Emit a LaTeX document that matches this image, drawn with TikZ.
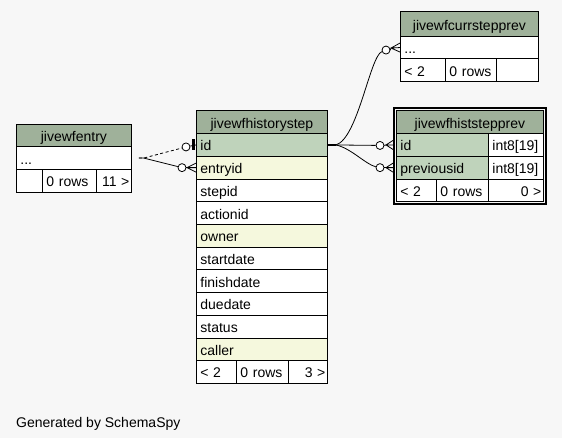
\documentclass[tikz,border=0pt]{standalone}
\usepackage{fontspec}
\setmainfont{Liberation Sans}
\usetikzlibrary{calc}
\definecolor{hdr}{RGB}{159,177,154}
\definecolor{keyc}{RGB}{191,211,187}
\definecolor{idxc}{RGB}{245,248,221}
\definecolor{bgc}{RGB}{247,247,247}
\begin{document}
\begin{tikzpicture}[x=1pt,y=-1pt,
  font=\fontsize{14}{16}\selectfont,
  cell/.style={draw=black, line width=0.8pt, anchor=north west, inner xsep=4pt, inner ysep=0pt,
     text height=12pt, text depth=0pt, minimum height=22.7pt, align=left, text width=#1, fill=white},
  hdrcell/.style={cell=#1, fill=hdr, align=center},
  rcell/.style={cell=#1, align=right, inner xsep=2pt},
  conn/.style={line width=0.8pt},
  odot/.style={draw=black, fill=white, circle, inner sep=0pt, minimum size=8pt, line width=0.8pt},
  keybar/.style={line width=2.5pt},
]
\fill[bgc] (0,0) rectangle (562,438);
\useasboundingbox (0,0) rectangle (562,438);

% jivewfhistorystep
\node[hdrcell=123pt] (hs) at (196,110.5) {jivewfhistorystep};
\node[cell=123pt, fill=keyc] (hsid) at (196,133.2) {id};
\node[cell=123pt, fill=idxc] (hsentry) at (196,155.9) {entryid};
\node[cell=123pt] (hsstep) at (196,178.6) {stepid};
\node[cell=123pt] (hsaction) at (196,201.3) {actionid};
\node[cell=123pt, fill=idxc] (hsowner) at (196,224) {owner};
\node[cell=123pt] (hsstart) at (196,246.7) {startdate};
\node[cell=123pt] (hsfinish) at (196,269.4) {finishdate};
\node[cell=123pt] (hsdue) at (196,292.1) {duedate};
\node[cell=123pt] (hsstatus) at (196,314.8) {status};
\node[cell=123pt, fill=idxc] (hscaller) at (196,337.5) {caller};
\node[cell=32pt] (hsf1) at (196,360.2) {< 2};
\node[cell=44pt] (hsf2) at (236,360.2) {0 rows};
\node[rcell=35pt] (hsf3) at (288,360.2) {3 >};

% jivewfentry
\node[hdrcell=107pt] (ent) at (16,123.6) {jivewfentry};
\node[cell=107pt] (entdots) at (16,146.3) {...};
\node[cell=18pt] (entf1) at (16,169) {};
\node[cell=46pt] (entf2) at (42,169) {0 rows};
\node[rcell=31pt] (entf3) at (96,169) {11 >};

% jivewfcurrstepprev
\node[hdrcell=130pt, minimum height=24.3pt] (cur) at (400,11.5) {jivewfcurrstepprev};
\node[cell=130pt] (curdots) at (400,35.8) {...};
\node[cell=37pt] (curf1) at (400,58.5) {< 2};
\node[cell=43pt] (curf2) at (445,58.5) {0 rows};
\node[cell=34pt] (curf3) at (496,58.5) {};

% jivewfhiststepprev
\draw[line width=2.5pt] (393.8,107.8) rectangle (545.8,203.8);
\node[hdrcell=139pt] (hsp) at (396,110.5) {jivewfhiststepprev};
\node[cell=84pt, fill=keyc] (hspid) at (396,133.2) {id};
\node[cell=47pt] (hspidt) at (488,133.2) {int8[19]};
\node[cell=84pt, fill=keyc] (hsppid) at (396,155.9) {previousid};
\node[cell=47pt] (hsppidt) at (488,155.9) {int8[19]};
\node[cell=32pt] (hspf1) at (396,178.6) {< 2};
\node[cell=44pt] (hspf2) at (436,178.6) {0 rows};
\node[rcell=51pt] (hspf3) at (488,178.6) {0 >};

% left connectors
\coordinate (L0) at ($(entdots.east)+(7,0)$);
\node[odot] (c1) at ($(hsid.west)+(-10,2)$) {};
\node[odot] (c2) at ($(hsentry.west)+(-14,0)$) {};
\draw[conn, dash pattern=on 3pt off 2.5pt] (L0) -- ++(5,0) -- (c1);
\draw[conn] (L0) -- ++(5,0) -- (c2);
\draw[conn] (c1) -- (hsid.west);
\draw[keybar] ($(hsid.west)+(-2.5,-5.5)$) -- ($(hsid.west)+(-2.5,5.5)$);
\draw[conn] (c2.east) -- ($(hsentry.west)+(-9,0)$);
\draw[conn] ($(hsentry.west)+(0,-4.5)$) -- ($(hsentry.west)+(-9,0)$) -- ($(hsentry.west)+(0,4.5)$)
  ($(hsentry.west)+(-9,0)$) -- (hsentry.west);

% right connectors
\draw[keybar] (hsid.east) -- ++(8,0) coordinate (R0);
\node[odot] (c3) at ($(hspid.west)+(-16,0.5)$) {};
\node[odot] (c4) at ($(hsppid.west)+(-16,0)$) {};
\node[odot] (c5) at ($(curdots.west)+(-14,2.5)$) {};
\draw[conn] (R0) -- (c3);
\draw[conn] (R0) .. controls +(15,3) and +(-14,-3) .. (c4);
\draw[conn] (R0) .. controls +(22,-6) and +(-16,6) .. (c5);
% crows at histstepprev
\draw[conn] (c3.east) -- ($(hspid.west)+(-10,0)$);
\draw[conn] ($(hspid.west)+(-3,-4.5)$) -- ($(hspid.west)+(-10,0)$) -- ($(hspid.west)+(-3,4.5)$)
  ($(hspid.west)+(-10,0)$) -- ($(hspid.west)+(-3,0)$);
\draw[conn] (c4.east) -- ($(hsppid.west)+(-10,0)$);
\draw[conn] ($(hsppid.west)+(-3,-4.5)$) -- ($(hsppid.west)+(-10,0)$) -- ($(hsppid.west)+(-3,4.5)$)
  ($(hsppid.west)+(-10,0)$) -- ($(hsppid.west)+(-3,0)$);
% crow at currstepprev
\draw[conn] (c5.east) -- ($(curdots.west)+(-9,0.5)$);
\draw[conn] ($(curdots.west)+(0,-4.5)$) -- ($(curdots.west)+(-9,0.5)$) -- ($(curdots.west)+(0,4.5)$)
  ($(curdots.west)+(-9,0.5)$) -- (curdots.west);

\node[anchor=base west, inner sep=0pt] (gen) at (16,427) {Generated by SchemaSpy};
\end{tikzpicture}
\end{document}
